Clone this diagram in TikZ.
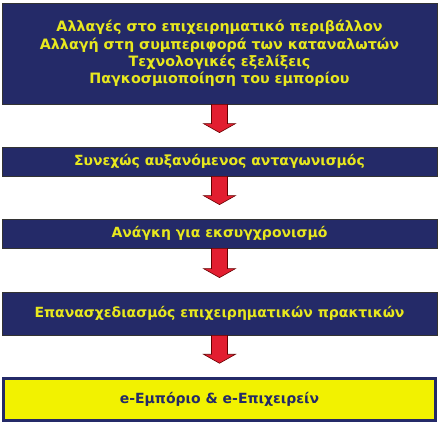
\documentclass[tikz,border=0pt]{standalone}
\usepackage{fontspec}
\setmainfont{DejaVu Sans}
\usepackage{tikz}
\usetikzlibrary{calc}
\definecolor{navy}{RGB}{36,42,104}
\definecolor{txtyellow}{RGB}{232,232,30}
\definecolor{boxyellow}{RGB}{242,242,0}
\definecolor{arrowred}{RGB}{226,30,48}
\tikzstyle{bluebox}   = [draw=black!80,line width=0.8pt,fill=navy,text=txtyellow,
                         font=\bfseries\fontsize{14}{17.5}\selectfont,align=center,
                         minimum width=435pt,inner sep=0pt]
\tikzstyle{goalbox}   = [draw=navy,line width=2.5pt,fill=boxyellow,text=navy,
                         font=\bfseries\fontsize{14}{18}\selectfont,align=center,
                         minimum width=432pt,minimum height=42pt,inner sep=0pt]
\tikzstyle{blockarrow}= [draw=red!40!black,line width=0.6pt,fill=arrowred]

\begin{document}
\begin{tikzpicture}[x=1pt,y=1pt]
  \useasboundingbox (0,0) rectangle (439,-425);

  %the chain of boxes
  \node[bluebox,minimum height=101pt,font=\bfseries\fontsize{14.3}{17.4}\selectfont] (causes) at (219.5,-53.5)
    {Αλλαγές στο επιχειρηματικό περιβάλλον\\
     Αλλαγή στη συμπεριφορά των καταναλωτών\\
     Τεχνολογικές εξελίξεις\\
     Παγκοσμιοποίηση του εμπορίου};
  \node[bluebox,minimum height=29pt] (compet) at (219.5,-161.5)
    {Συνεχώς αυξανόμενος ανταγωνισμός};
  \node[bluebox,minimum height=29pt] (sync) at (219.5,-233.5)
    {Ανάγκη για εκσυγχρονισμό};
  \node[bluebox,minimum height=43pt] (redesign) at (219.5,-313.5)
    {Επανασχεδιασμός επιχειρηματικών πρακτικών};
  \node[goalbox] (ebiz) at (219.5,-399.5)
    {e-Εμπόριο \& e-Επιχειρείν};

  %red block arrows between the boxes
  \foreach \a/\b in {causes/compet,compet/sync,sync/redesign,redesign/ebiz}{
    \draw[blockarrow] ($(\a.south)+(-8,0)$) -- ($(\b.north)+(-8,23)$)
      -- ($(\b.north)+(-16,23)$) -- ($(\b.north)+(0,14)$)
      -- ($(\b.north)+(16,23)$) -- ($(\b.north)+(8,23)$)
      -- ($(\a.south)+(8,0)$) -- cycle;
  }
\end{tikzpicture}
\end{document}
